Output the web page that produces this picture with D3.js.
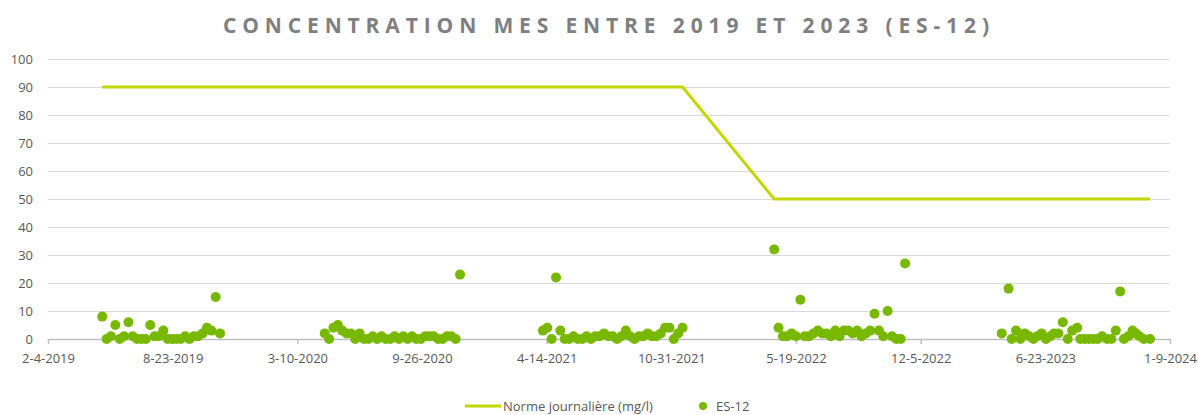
<!DOCTYPE html>
<html>
<head>
<meta charset="utf-8">
<script src="https://cdn.jsdelivr.net/npm/d3@7"></script>
<style>
    body { margin: 0; background: #fff; }
    svg { display: block; font-family: "Open Sans", sans-serif; }
</style>
</head>
<body>
<svg id="chart" width="1198" height="415"></svg>
<script>
// data (MES in mg/l, weekly samples)
var dates2019 = ["2019-05-02", "2019-05-09", "2019-05-16", "2019-05-23", "2019-05-30", "2019-06-06", "2019-06-13",
    "2019-06-20", "2019-06-27", "2019-07-04", "2019-07-11", "2019-07-18", "2019-07-25", "2019-08-01", "2019-08-08",
    "2019-08-15", "2019-08-22", "2019-08-29", "2019-09-05", "2019-09-12", "2019-09-19", "2019-09-26", "2019-10-03",
    "2019-10-10", "2019-10-17", "2019-10-24", "2019-10-31", "2019-11-07"];
var mes2019 = [8, 0, 1, 5, 0, 1, 6, 1, 0, 0, 0, 5, 1, 1, 3, 0, 0, 0, 0, 1, 0, 1, 1, 2, 4, 3, 15, 2];

var dates2020 = ["2020-04-23", "2020-04-30", "2020-05-07", "2020-05-14", "2020-05-21", "2020-05-28", "2020-06-04",
    "2020-06-11", "2020-06-18", "2020-06-25", "2020-07-02", "2020-07-09", "2020-07-16", "2020-07-23", "2020-07-30",
    "2020-08-06", "2020-08-13", "2020-08-20", "2020-08-27", "2020-09-03", "2020-09-10", "2020-09-17", "2020-09-24",
    "2020-10-01", "2020-10-08", "2020-10-15", "2020-10-22", "2020-10-29", "2020-11-05", "2020-11-12", "2020-11-19",
    "2020-11-26"];
var mes2020 = [2, 0, 4, 5, 3, 2, 2, 0, 2, 0, 0, 1, 0, 1, 0, 0, 1, 0, 1, 0, 1, 0, 0, 1, 1, 1, 0, 0, 1, 1, 0, 23];

var dates2021 = ["2021-04-08", "2021-04-15", "2021-04-22", "2021-04-29", "2021-05-06", "2021-05-13", "2021-05-20",
    "2021-05-27", "2021-06-03", "2021-06-10", "2021-06-17", "2021-06-24", "2021-07-01", "2021-07-08", "2021-07-15",
    "2021-07-22", "2021-07-29", "2021-08-05", "2021-08-12", "2021-08-19", "2021-08-26", "2021-09-02", "2021-09-09",
    "2021-09-16", "2021-09-23", "2021-09-30", "2021-10-07", "2021-10-14", "2021-10-21", "2021-10-28", "2021-11-04",
    "2021-11-11", "2021-11-18"];
var mes2021 = [3, 4, 0, 22, 3, 0, 0, 1, 0, 0, 1, 0, 1, 1, 2, 1, 1, 0, 1, 3, 1, 0, 1, 1, 2, 1, 1, 2, 4, 4, 0, 2, 4];

var dates2022 = ["2022-04-14", "2022-04-21", "2022-04-28", "2022-05-05", "2022-05-12", "2022-05-19", "2022-05-26",
    "2022-06-02", "2022-06-09", "2022-06-16", "2022-06-23", "2022-06-30", "2022-07-07", "2022-07-14", "2022-07-21",
    "2022-07-28", "2022-08-04", "2022-08-11", "2022-08-18", "2022-08-25", "2022-09-01", "2022-09-08", "2022-09-15",
    "2022-09-22", "2022-09-29", "2022-10-06", "2022-10-13", "2022-10-20", "2022-10-27", "2022-11-03", "2022-11-10"];
var mes2022 = [32, 4, 1, 1, 2, 1, 14, 1, 1, 2, 3, 2, 2, 1, 3, 1, 3, 3, 2, 3, 1, 2, 3, 9, 3, 1, 10, 1, 0, 0, 27];

var dates2023 = ["2023-04-14", "2023-04-25", "2023-04-30", "2023-05-07", "2023-05-14", "2023-05-21", "2023-05-28",
    "2023-06-04", "2023-06-10", "2023-06-17", "2023-06-24", "2023-07-01", "2023-07-07", "2023-07-14", "2023-07-21",
    "2023-07-29", "2023-08-05", "2023-08-13", "2023-08-18", "2023-08-25", "2023-09-01", "2023-09-08", "2023-09-15",
    "2023-09-22", "2023-09-30", "2023-10-07", "2023-10-14", "2023-10-21", "2023-10-27", "2023-11-03", "2023-11-10",
    "2023-11-15", "2023-11-21", "2023-11-28", "2023-12-08"];
var mes2023 = [2, 18, 0, 3, 0, 2, 1, 0, 1, 2, 0, 1, 2, 2, 6, 0, 3, 4, 0, 0, 0, 0, 0, 1, 0, 0, 3, 17, 0, 1, 3, 2, 1, 0, 0];

// daily standard (mg/l)
var normDates = ["2019-05-02", "2021-11-18", "2022-04-14", "2023-12-08"];
var normValues = [90, 90, 50, 50];

var xTickDates = ["2019-02-04", "2019-08-23", "2020-03-10", "2020-09-26", "2021-04-14",
    "2021-10-31", "2022-05-19", "2022-12-05", "2023-06-23", "2024-01-09"];
var yTicks = [0, 10, 20, 30, 40, 50, 60, 70, 80, 90, 100];

var titleText = "CONCENTRATION MES ENTRE 2019 ET 2023 (ES-12)";
var normLabel = "Norme journalière (mg/l)";
var seriesLabel = "ES-12";

var lineColor = "#c4d600";
var dotColor = "#78b900";
var textColor = "#595959";

var parseDate = d3.utcParse("%Y-%m-%d");
var fmtDate = d3.utcFormat("%-m-%-d-%Y");

function zip(dates, vals) {
    return dates.map(function(d, i) {
        return { date: parseDate(d), value: vals[i] };
    });
}

var samples = [].concat(
    zip(dates2019, mes2019),
    zip(dates2020, mes2020),
    zip(dates2021, mes2021),
    zip(dates2022, mes2022),
    zip(dates2023, mes2023)
);
var norm = zip(normDates, normValues);
var ticks = xTickDates.map(parseDate);

var svg = d3.select("#chart");

var x = d3.scaleUtc()
    .domain([ticks[0], ticks[ticks.length - 1]])
    .range([48, 1170]);

var y = d3.scaleLinear()
    .domain([0, 100])
    .range([339, 59]);

// title
svg.append("text")
    .attr("x", 223)
    .attr("y", 33)
    .attr("textLength", 766)
    .attr("lengthAdjust", "spacing")
    .style("font-size", "21px")
    .style("font-weight", 700)
    .style("fill", "#7f7f7f")
    .text(titleText);

// gridlines
svg.append("g")
    .selectAll("line")
    .data(yTicks.filter(function(v) { return v > 0; }))
    .enter()
    .append("line")
    .attr("x1", x.range()[0])
    .attr("x2", x.range()[1])
    .attr("y1", function(v) { return y(v) + 0.5; })
    .attr("y2", function(v) { return y(v) + 0.5; })
    .style("stroke", "#d9d9d9")
    .style("stroke-width", 1);

// y labels
svg.append("g")
    .selectAll("text")
    .data(yTicks)
    .enter()
    .append("text")
    .attr("x", 33)
    .attr("y", function(v) { return y(v) + 5; })
    .attr("text-anchor", "end")
    .style("font-size", "13px")
    .style("fill", textColor)
    .text(function(v) { return v; });

// x axis
var xAxis = d3.axisBottom(x)
    .tickValues(ticks)
    .tickSize(5)
    .tickSizeOuter(0)
    .tickPadding(10)
    .tickFormat(fmtDate);

var gx = svg.append("g")
    .attr("transform", "translate(0," + y(0) + ")")
    .call(xAxis);

gx.select(".domain").style("stroke", "#bfbfbf").style("stroke-width", 1.5);
gx.selectAll(".tick line").style("stroke", "#bfbfbf").style("stroke-width", 1.5);
gx.selectAll(".tick text")
    .style("font-family", "'Open Sans', sans-serif")
    .style("font-size", "13px")
    .style("fill", textColor);

// norm line
var line = d3.line()
    .x(function(d) { return x(d.date); })
    .y(function(d) { return y(d.value); });

svg.append("path")
    .datum(norm)
    .attr("d", line)
    .style("fill", "none")
    .style("stroke", lineColor)
    .style("stroke-width", 3);

// samples
svg.append("g")
    .selectAll("circle")
    .data(samples)
    .enter()
    .append("circle")
    .attr("cx", function(d) { return x(d.date); })
    .attr("cy", function(d) { return y(d.value); })
    .attr("r", 5)
    .style("fill", dotColor);

// legend
var legend = svg.append("g");
legend.append("line")
    .attr("x1", 465).attr("x2", 501)
    .attr("y1", 406).attr("y2", 406)
    .style("stroke", lineColor)
    .style("stroke-width", 3);
legend.append("text")
    .attr("x", 503).attr("y", 411)
    .style("font-size", "13px")
    .style("fill", textColor)
    .text(normLabel);
legend.append("circle")
    .attr("cx", 703).attr("cy", 406)
    .attr("r", 4)
    .style("fill", dotColor);
legend.append("text")
    .attr("x", 716).attr("y", 411)
    .style("font-size", "13px")
    .style("fill", textColor)
    .text(seriesLabel);
</script>
</body>
</html>
